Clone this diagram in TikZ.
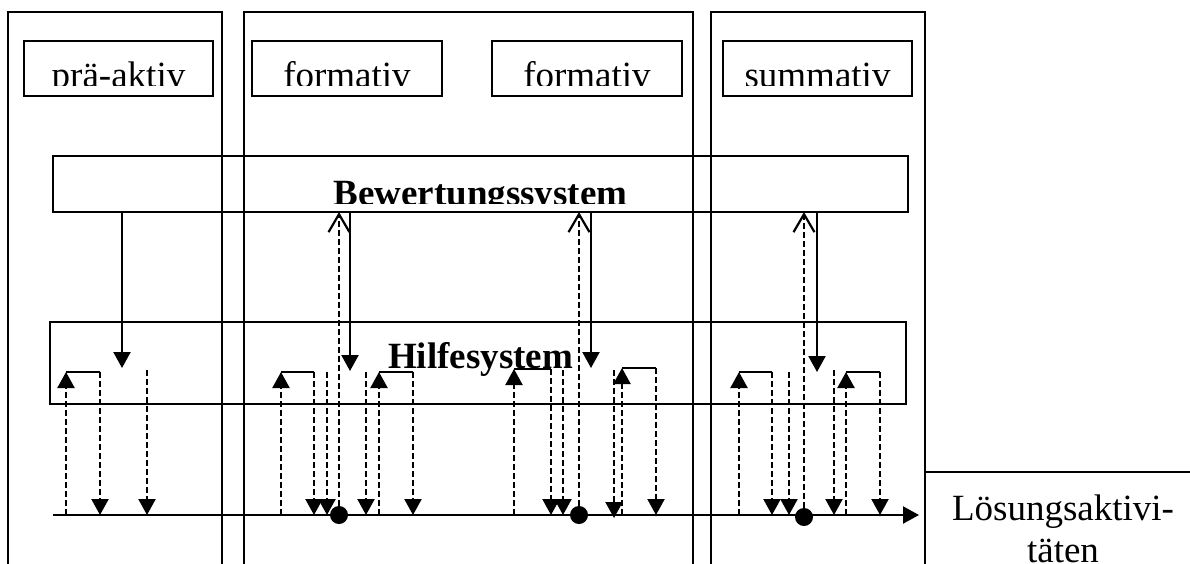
\documentclass[tikz,border=0pt]{standalone}
\usepackage{fontspec}
\setmainfont{Liberation Serif}
\usetikzlibrary{arrows.meta}
\begin{document}
\begin{tikzpicture}[x=1pt,y=-1pt,
  frame/.style={draw, line width=1.9pt, inner sep=0pt, outer sep=0pt},
  box/.style={draw, line width=2.2pt, inner sep=0pt, outer sep=0pt},
  lbl/.style={anchor=base, inner sep=0pt, font=\fontsize{37}{44}\selectfont},
  blbl/.style={anchor=base, inner sep=0pt, font=\fontsize{37}{44}\selectfont\bfseries},
  flow/.style={line width=2.2pt},
  hint/.style={line width=2.2pt, dash pattern=on 6pt off 3pt},
  tip/.style={-{Triangle[width=17pt,length=16pt]}},
  back/.style={-{Straight Barb[width=21pt,length=18pt,line width=2.2pt]}},
  dot/.style={circle, fill, inner sep=0pt, minimum size=18pt}
]
% page area
\clip (0,0) rectangle (1190,563);

% phase columns (open at the bottom)
\node[frame, minimum width=214pt, minimum height=620pt] (c1) at (115,322) {};
\node[frame, minimum width=449pt, minimum height=620pt] (c2) at (468.5,322) {};
\node[frame, minimum width=214pt, minimum height=620pt] (c3) at (818,322) {};
% result box on the right
\node[frame, minimum width=300pt, minimum height=200pt, anchor=north west] (loes) at (925,472) {};

% phase labels
\node[box, minimum width=189pt, minimum height=55pt] (prae)  at (118.5,68.5) {};
\node[box, minimum width=190pt, minimum height=55pt] (form1) at (347,68.5) {};
\node[box, minimum width=190pt, minimum height=55pt] (form2) at (587,68.5) {};
\node[box, minimum width=189pt, minimum height=55pt] (summ)  at (817.5,68.5) {};
\begin{scope}
  \clip (0,41) rectangle (1190,85);
  \node[lbl] at (118.5,87) {prä-aktiv};
  \node[lbl] at (347,87) {formativ};
  \node[lbl] at (587,87) {formativ};
  \node[lbl] at (817.5,87) {summativ};
\end{scope}

% the two systems
\node[box, minimum width=855pt, minimum height=56pt] (bew) at (480.5,184) {};
\begin{scope}
  \clip (0,156) rectangle (1190,203);
  \node[blbl] at (480.5,205) {Bewertungssystem};
\end{scope}
\node[box, minimum width=856pt, minimum height=82pt] (hilfe) at (478,363) {};
\node[blbl] (hilfelbl) at (480.5,368) {Hilfesystem};

% result label
\node[lbl] (loes1) at (1063,520) {Lösungsaktivi-};
\node[lbl] (loes2) at (1063,562) {täten};

% time line of the solution process
\coordinate (tl0) at (53,515);
\coordinate (tl1) at (919,515);

% help requests: up to the help system and back down
\newcommand{\helploop}[3]{%
  \draw[hint,tip] (#1,515) -- (#1,#3);
  \draw[flow] (#1,#3) -- (#2,#3);
  \draw[hint,tip] (#2,#3) -- (#2,515);
}
% help offered without a request
\newcommand{\helpdown}[2]{%
  \draw[hint,tip] (#1,#2) -- (#1,515);
}

% pre-active phase
\draw[flow,tip] (122,0 |- bew.south) -- (122,368);
\helploop{66}{100}{372}
\helpdown{147}{370}

% first formative phase
\helploop{281}{314}{372}
\helpdown{327}{372}
\draw[hint,back] (339,515) -- (339,0 |- bew.south);
\draw[flow,tip] (350,0 |- bew.south) -- (350,371);
\helpdown{366}{372}
\helploop{379}{413}{372}

% second formative phase
\helploop{514}{551}{369}
\helpdown{563}{370}
\draw[hint,back] (579,515) -- (579,0 |- bew.south);
\draw[flow,tip] (591,0 |- bew.south) -- (591,368);
\draw[hint,tip] (614,370) -- (614,518);
\helploop{622}{656}{368}

% summative phase
\helploop{739}{772}{372}
\helpdown{789}{372}
\draw[hint,back] (804,517) -- (804,0 |- bew.south);
\draw[flow,tip] (817,0 |- bew.south) -- (817,372);
\helpdown{834}{370}
\helploop{846}{880}{372}

% time line with the assessment points
\draw[flow,tip] (tl0) -- (tl1);
\node[dot] (d1) at (339,515) {};
\node[dot] (d2) at (579,515) {};
\node[dot] (d3) at (804,517) {};
\end{tikzpicture}
\end{document}
